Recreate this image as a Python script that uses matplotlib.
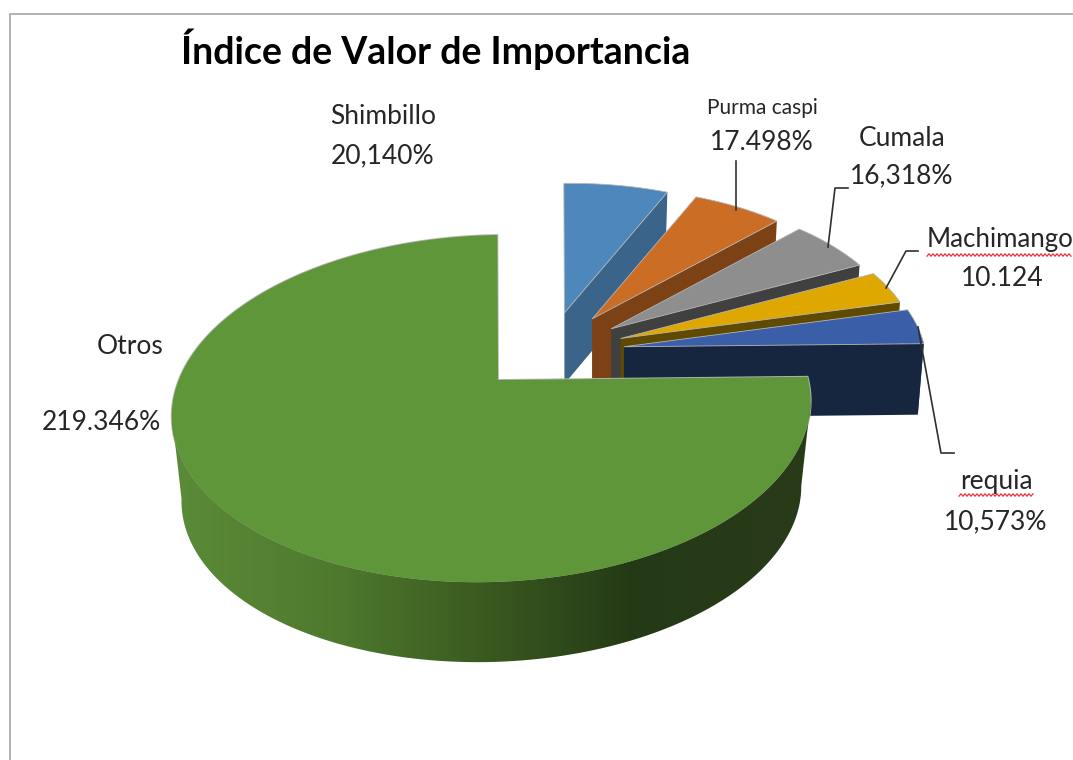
import numpy as np
import matplotlib
matplotlib.use('Agg')
import matplotlib.pyplot as plt
from matplotlib.colors import LinearSegmentedColormap
from matplotlib.patches import Polygon

# slices, clockwise from 12 o'clock
names = ['Shimbillo', 'Purma caspi', 'Cumala', 'Machimango', 'requia', 'Otros']
values = [20.140, 17.498, 16.318, 10.124, 10.573, 219.346]
value_labels = ['20,140%', '17.498%', '16,318%', '10.124', '10,573%', '219.346%']
title = 'Índice de Valor de Importancia'

top_colors = ['#4d87bb', '#cc6d26', '#8e8e8e', '#dfa800', '#3a5ea8', '#5f963a']
cut_colors = ['#3a6489', '#7c4216', '#404040', '#5f4a00', '#16263f', '#2b4419']

plt.rcParams['font.family'] = ['Lato', 'DejaVu Sans']

# fake 3d: unit circle -> screen pixels with a little perspective
x0, y0 = 498., 380.
A, B = 315., 168.8
kv, ku = 0.164, 0.02
tilt = 6.
first_angle = 90.5
depth_main, depth_slice = 86., 71.


def project(ang, scale=1.):
    t = np.radians(ang)
    u, v = np.cos(t), np.sin(t)
    w = 1 + kv*v + ku*u
    return (A*u + 2*v)/w*scale, (-B*v - tilt*u)/w*scale


def arc(a1, a2, scale=1.):
    n = max(int(abs(a1-a2)*2), 8)
    return project(np.linspace(a1, a2, n), scale)


fig = plt.figure(figsize=(10.73, 7.6), dpi=100)
ax = fig.add_axes([0, 0, 1, 1])

# chart frame
ax.plot([9.5, 9.5, 1073], [760, 14, 14], color='#a6a6a6', lw=1.2)

angles = 360*np.array(values)/np.sum(values)
edges = first_angle - np.concatenate(([0], np.cumsum(angles)))

# small exploded slices, back to front
edge_col = '#b5b5b5'
for i in range(5):
    a1, a2 = edges[i], edges[i+1]
    mid = np.radians((a1+a2)/2)
    cx = x0 + 51 + 75.3*np.cos(mid)
    cy = y0 - 29.5 - 38.4*np.sin(mid)
    s = 0.975 - 0.065*np.sin(mid)
    xa, ya = arc(a1, a2, s)
    ya = ya*0.98
    xb, yb = arc(a1, a2, s*0.98)
    # only the last slice shows its outer wall
    if i == 4:
        ax.fill(np.r_[cx+xa, cx+xb[::-1]], np.r_[cy+ya, cy+depth_slice+yb[::-1]],
                color='#2d4a85', lw=0, zorder=2+i)
    # cut face
    ax.fill([cx, cx+xa[-1], cx+xb[-1], cx], [cy, cy+ya[-1], cy+depth_slice+yb[-1], cy+depth_slice],
            color=cut_colors[i], lw=0, zorder=2+i)
    ax.fill(np.r_[cx, cx+xa], np.r_[cy, cy+ya], facecolor=top_colors[i],
            edgecolor=edge_col, lw=0.6, zorder=2+i)

# big slice: shaded wall then top
wall = LinearSegmentedColormap.from_list('wall', [(0, '#5b8b38'), (0.25, '#4f7a2e'), (0.5, '#39581f'),
                                                  (0.72, '#243a16'), (1, '#2a3b1a')])
a1, a2 = edges[5], edges[6]
# run between the left and right extremes so the outline does not cross itself
xt, yt = arc(-9, -171)
xl, yl = arc(-9, -171, 0.97)
wall_poly = Polygon(np.c_[x0+np.r_[xt, xl[::-1]], y0+np.r_[yt, depth_main+yl[::-1]]],
                    transform=ax.transData, fc='none', ec='none')
im = ax.imshow(np.linspace(0, 1, 256)[None, :], cmap=wall, extent=(172, 812, 760, 0),
               aspect='auto', zorder=10)
im.set_clip_path(wall_poly)

xa, ya = arc(a1, a2)
ax.fill(np.r_[x0, x0+xa], np.r_[y0, y0+ya], facecolor=edge_col, edgecolor=edge_col, lw=1.3, zorder=9)
ax.fill(np.r_[x0, x0+xa], np.r_[y0, y0+ya], facecolor=top_colors[5], lw=0, zorder=11)

# leader lines
line_col = '#303030'
ax.plot([736, 736], [161, 210], color=line_col, lw=1.2, zorder=20)
ax.plot([848, 835, 828], [188, 188, 247], color=line_col, lw=1.2, zorder=20)
ax.plot([918, 906, 886], [251, 251, 288], color=line_col, lw=1.2, zorder=20)
ax.plot([918, 941, 954], [327, 453, 453], color=line_col, lw=1.2, zorder=20)

# labels
fs = 19
txt = '#262626'
ax.text(181, 49, title, fontsize=27, fontweight='bold', color='black', ha='left', va='center')
ax.text(383, 116, names[0], fontsize=fs, color=txt, ha='center', va='center')
ax.text(383, 156, value_labels[0], fontsize=fs, color=txt, ha='center', va='center')
ax.text(762, 108, names[1], fontsize=15, color=txt, ha='center', va='center')
ax.text(762, 142, value_labels[1], fontsize=fs, color=txt, ha='center', va='center')
ax.text(902, 139, names[2], fontsize=fs, color=txt, ha='center', va='center')
ax.text(902, 176, value_labels[2], fontsize=fs, color=txt, ha='center', va='center')
ax.text(927, 239, names[3], fontsize=18.6, color=txt, ha='left', va='center')
ax.text(1002, 279, value_labels[3], fontsize=fs, color=txt, ha='center', va='center')
ax.text(996, 482, names[4], fontsize=fs, color=txt, ha='center', va='center')
ax.text(996, 522, value_labels[4], fontsize=fs, color=txt, ha='center', va='center')
ax.text(130, 346, names[5], fontsize=fs, color=txt, ha='center', va='center')
ax.text(161, 423, value_labels[5], fontsize=fs, color=txt, ha='right', va='center')


# spell checker squiggles
def squiggle(xs, xe, y):
    xx = np.arange(xs, xe, 2.)
    yy = y + 1.2*(-1.)**np.arange(xx.size)
    ax.plot(xx, yy, color='#e8323c', lw=0.9, zorder=21)


squiggle(927, 1073, 255)
squiggle(959, 1034, 495)

ax.set_xlim(0, 1073)
ax.set_ylim(760, 0)
ax.axis('off')

fig.savefig('out.png', dpi=100)
